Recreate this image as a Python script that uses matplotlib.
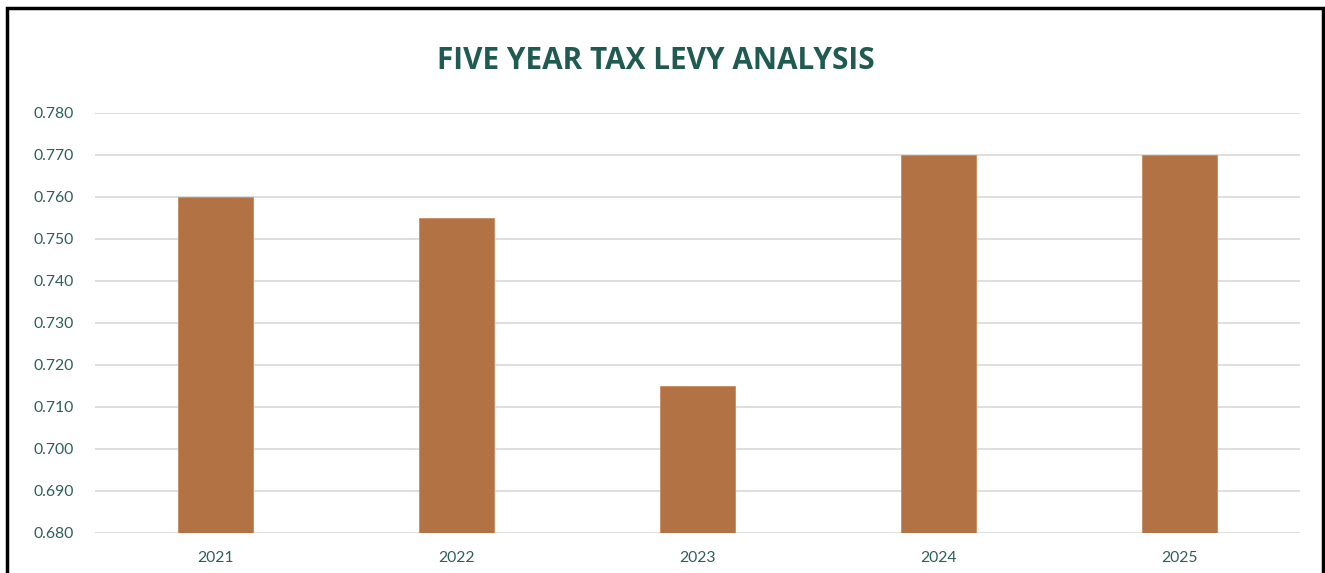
import matplotlib
matplotlib.use("Agg")
import matplotlib.pyplot as plt
from matplotlib.patches import Rectangle

years = ["2021", "2022", "2023", "2024", "2025"]
levy = [0.760, 0.755, 0.715, 0.770, 0.770]
yticks = [0.680, 0.690, 0.700, 0.710, 0.720, 0.730, 0.740, 0.750, 0.760, 0.770, 0.780]

W, H = 1325, 573
fig = plt.figure(figsize=(W / 100, H / 100), dpi=100)
fig.patch.set_facecolor("white")

ax = fig.add_axes([95 / W, 1 - 533 / H, (1300 - 95) / W, (533 - 113) / H])
x = range(len(years))
ax.bar(x, [v - 0.68 for v in levy], bottom=0.68, width=0.31, color="#B27244",
       edgecolor="#C98A5E", linewidth=0.6, zorder=3)
ax.set_xlim(-0.5, len(years) - 0.5)
ax.set_ylim(0.68, 0.78)
ax.set_yticks(yticks)
ax.set_yticklabels([f"{t:.3f}" for t in yticks])
ax.set_xticks(list(x))
ax.set_xticklabels(years)
ax.grid(axis="y", color="#D9D9D9", linewidth=1.2, zorder=0)
ax.set_axisbelow(True)
for s in ax.spines.values():
    s.set_visible(False)
ax.tick_params(axis="both", length=0, labelsize=11.3, labelcolor="#2F5F5A")
ax.tick_params(axis="y", pad=15)
ax.tick_params(axis="x", pad=13)
for lab in ax.get_xticklabels() + ax.get_yticklabels():
    lab.set_family("Lato")

fig.text(656 / W, 1 - 61 / H, "FIVE YEAR TAX LEVY ANALYSIS", ha="center", va="center",
         fontsize=21.4, fontweight="bold", color="#1F5B50", family="Open Sans")

fig.patches.append(Rectangle((7.5 / W, -0.05), (1323 - 7.5) / W, (1 - 8.5 / H) + 0.05,
                             transform=fig.transFigure, fill=False, edgecolor="black",
                             linewidth=2.5, figure=fig))

fig.savefig("out.png", dpi=100)
